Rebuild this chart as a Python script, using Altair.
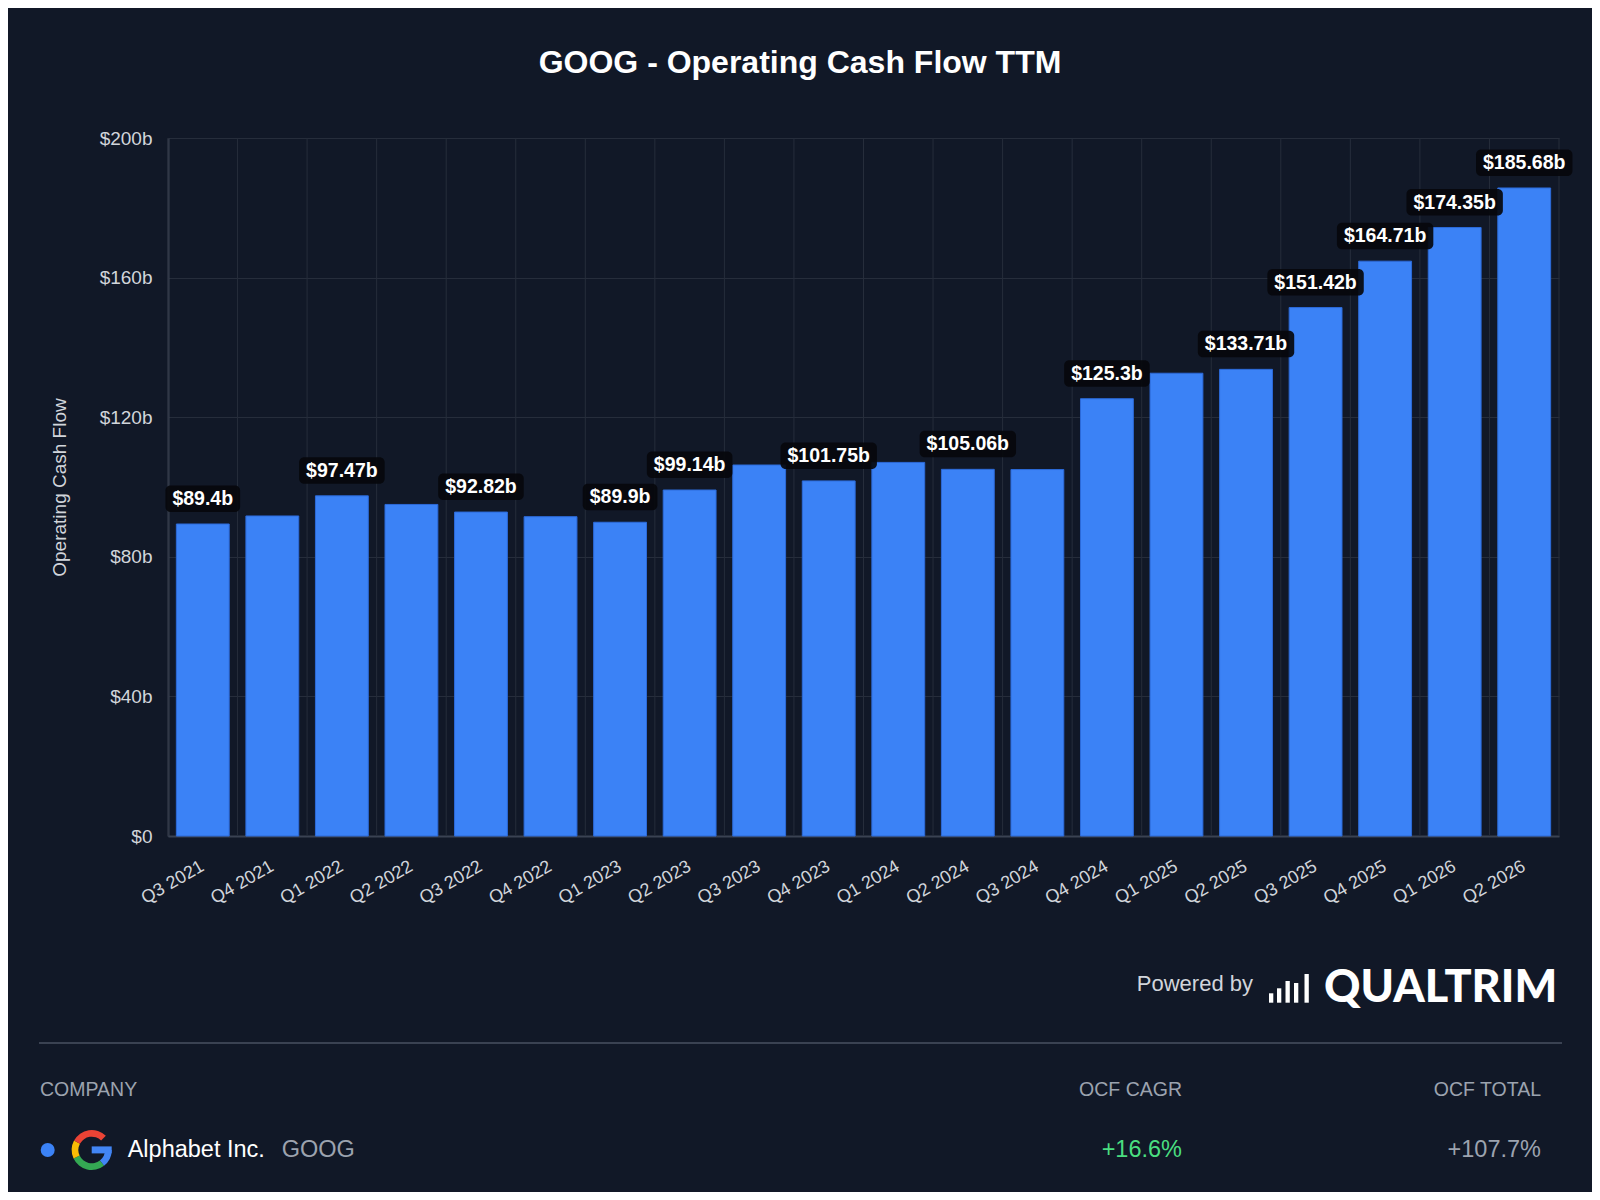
import math
import altair as alt
import pandas as pd

# ---- data ----
quarters = ["Q3 2021", "Q4 2021", "Q1 2022", "Q2 2022", "Q3 2022", "Q4 2022",
            "Q1 2023", "Q2 2023", "Q3 2023", "Q4 2023", "Q1 2024", "Q2 2024",
            "Q3 2024", "Q4 2024", "Q1 2025", "Q2 2025", "Q3 2025", "Q4 2025",
            "Q1 2026", "Q2 2026"]
ocf = [89.4, 91.7, 97.47, 95.0, 92.82, 91.5, 89.9, 99.14, 106.3, 101.75,
       107.05, 105.06, 105.0, 125.3, 132.6, 133.71, 151.42, 164.71, 174.35, 185.68]
show_label = [1, 0, 1, 0, 1, 0, 1, 1, 0, 1, 0, 1, 0, 1, 0, 1, 1, 1, 1, 1]
y_ticks = [0, 40, 80, 120, 160, 200]

company = "Alphabet Inc."
ticker = "GOOG"
cagr_text = "+16.6%"
total_text = "+107.7%"

df = pd.DataFrame({"quarter": quarters, "ocf": ocf, "show": show_label})
df["label"] = [f"${v:g}b" for v in ocf]

BG = "#111827"
GRID = "#262d3b"
AXIS_TXT = "#d1d5db"
MUTED = "#9ca3af"
FONT = "Liberation Sans"
W, H = 1391, 698
PAD_INNER = 0.24
STEP = W / len(quarters)
LABEL_FS = 19.5

x_axis = alt.Axis(title=None, labelAngle=-30, labelAlign="right", labelBaseline="middle",
                  labelPadding=29, ticks=False, tickSize=0, grid=False,
                  domainColor="#3a4252", domainWidth=2,
                  labelColor=AXIS_TXT, labelFontSize=18, labelFont=FONT)
x_scale = alt.Scale(paddingInner=PAD_INNER, paddingOuter=PAD_INNER / 2)
x_enc = alt.X("quarter:N", sort=quarters, scale=x_scale, axis=x_axis)
x_edge = alt.X("quarter:N", sort=quarters, scale=x_scale, axis=x_axis, bandPosition=0)

y_enc = alt.Y(
    "ocf:Q", scale=alt.Scale(domain=[0, 200]),
    axis=alt.Axis(values=y_ticks, title="Operating Cash Flow",
                  labelExpr="datum.value === 0 ? '$0' : '$' + datum.value + 'b'",
                  ticks=False, tickSize=0, labelPadding=16, gridColor=GRID, gridWidth=1,
                  domainColor="#3a4252", domainWidth=2, labelColor=AXIS_TXT,
                  labelFontSize=19, labelFont=FONT, titleColor=AXIS_TXT, titleFontSize=19,
                  titleFont=FONT, titleFontWeight="normal", titleAngle=270,
                  titleX=-109, titleY=H / 2, titleAlign="center", titleBaseline="middle"),
)

base = alt.Chart(df)

# vertical grid lines in the middle of the gaps between bars
vgrid = base.mark_rule(color=GRID, strokeWidth=1, xOffset=-STEP * PAD_INNER / 2).encode(
    x=x_edge, y=alt.value(0), y2=alt.value(H))
vgrid_end = alt.Chart(pd.DataFrame({"t": [""]})).mark_rule(color=GRID, strokeWidth=1).encode(
    x=alt.value(W), y=alt.value(0), y2=alt.value(H))

bars = base.mark_bar(color="#3b82f6", stroke="#2c6ad9", strokeWidth=1).encode(x=x_enc, y=y_enc)

lab = base.transform_filter("datum.show == 1").transform_calculate(
    bw=f"{LABEL_FS}*(0.556*(length(datum.label)-2)+0.889)+14"
)
boxes = lab.mark_bar(yOffset=-12, y2Offset=-38.5, cornerRadius=5, color="#07080c",
                     opacity=0.92).encode(
    x=x_enc, y="ocf:Q", y2="ocf:Q", size=alt.Size("bw:Q", scale=None, legend=None)
)
texts = lab.mark_text(dy=-25, fontSize=LABEL_FS, fontWeight="bold", color="white",
                      font=FONT, baseline="middle").encode(x=x_enc, y="ocf:Q", text="label:N")

one = pd.DataFrame({"t": [""]})


def txt(s, x, y, size, color, align="left", weight="normal", font=FONT):
    return alt.Chart(pd.DataFrame({"t": [s]})).mark_text(
        fontSize=size, color=color, align=align, baseline="middle",
        fontWeight=weight, font=font
    ).encode(x=alt.value(x), y=alt.value(y), text="t:N")


def rect(x, x2, y, y2, color):
    return alt.Chart(one).mark_rect(color=color).encode(
        x=alt.value(x), x2=alt.value(x2), y=alt.value(y), y2=alt.value(y2))


def arc(t1, t2, color, cx, cy):
    return alt.Chart(one).mark_arc(theta=math.radians(t1), theta2=math.radians(t2),
                                   radius=20, radius2=13.3, color=color).encode(
        x=alt.value(cx), y=alt.value(cy))


title = txt("GOOG - Operating Cash Flow TTM", 632, -75, 32, "white", align="center",
            weight="bold")
powered = txt("Powered by", 1085, 846, 22, AXIS_TXT, align="right")
qual = txt("QUALTRIM", 1156, 850, 45, "white", weight=900, font="Lato")
logo = [rect(1101, 1105.3, 855.3, 864.7, "white"),
        rect(1109, 1113.3, 850.3, 864.7, "white"),
        rect(1117.5, 1121.8, 843, 864.7, "white"),
        rect(1126, 1130.3, 845, 864.7, "white"),
        rect(1136.5, 1140.8, 836, 864.7, "white")]

sep = alt.Chart(one).mark_rule(color="#3a4252", strokeWidth=2).encode(
    x=alt.value(-129), x2=alt.value(1394), y=alt.value(905))

h_company = txt("COMPANY", -128, 952, 19.5, MUTED)
h_cagr = txt("OCF CAGR", 1014, 952, 19.5, MUTED, align="right")
h_total = txt("OCF TOTAL", 1373, 952, 19.5, MUTED, align="right")

dot = alt.Chart(one).mark_circle(size=195, color="#3b82f6", opacity=1).encode(
    x=alt.value(-120.3), y=alt.value(1012))
gx, gy = -76.3, 1012
g_logo = [arc(90, 142, "#4285F4", gx, gy), arc(142, 245, "#34A853", gx, gy),
          arc(245, 298, "#FBBC05", gx, gy), arc(298, 405, "#EA4335", gx, gy),
          rect(gx, gx + 20, gy - 3.6, gy + 3.4, "#4285F4")]
name = txt(company, -40.3, 1012, 23.5, "white")
tick = txt(ticker, 113.7, 1012, 23.5, MUTED)
cagr = txt(cagr_text, 1014, 1012, 23.5, "#4ade80", align="right")
total = txt(total_text, 1373, 1012, 23.5, MUTED, align="right")

chart = alt.layer(
    vgrid, vgrid_end, bars, boxes, texts, title, powered, qual, *logo, sep,
    h_company, h_cagr, h_total, dot, *g_logo, name, tick, cagr, total
).properties(
    width=W, height=H, background=BG,
    padding={"left": 160, "top": 130, "right": 33, "bottom": 356},
    autosize=alt.AutoSizeParams(type="none"),
).configure_view(stroke=None)

chart.save("out.html", embed_options={"renderer": "svg", "actions": False})
